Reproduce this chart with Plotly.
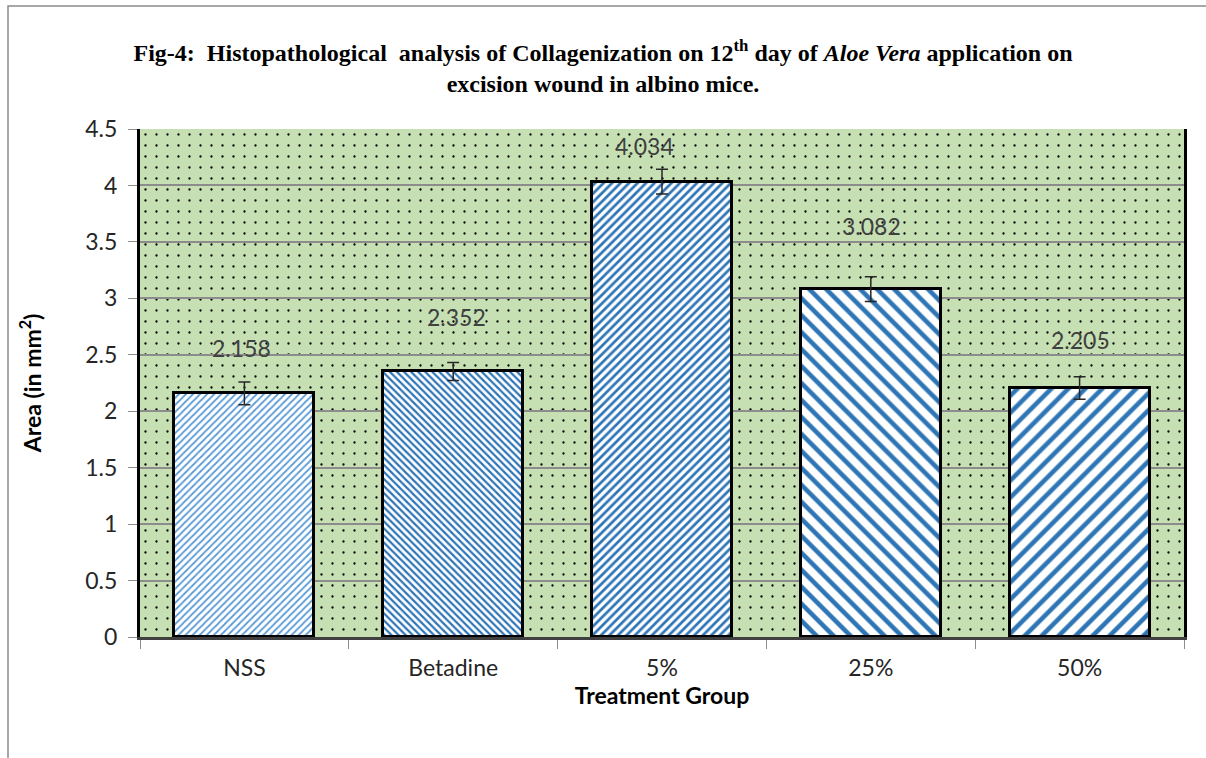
import plotly.graph_objects as go

categories = ["NSS", "Betadine", "5%", "25%", "50%"]
values = [2.158, 2.352, 4.034, 3.082, 2.205]
errors = [0.10, 0.08, 0.11, 0.11, 0.10]
value_labels = ["2.158", "2.352", "4.034", "3.082", "2.205"]
y_ticks = [0, 0.5, 1, 1.5, 2, 2.5, 3, 3.5, 4, 4.5]
y_tick_labels = ["0", "0.5", "1", "1.5", "2", "2.5", "3", "3.5", "4", "4.5"]
y_max = 4.5

# styling (not data)
label_yshift = [45, 54, 36, 63, 48]
label_xshift = [-3, 3, -18, 1, 1]
pattern_shapes = ["/", "\\", "/", "\\", "/"]
pattern_sizes = [5, 5, 6, 12, 12]
pattern_solidity = [0.35, 0.45, 0.45, 0.38, 0.38]
pattern_colors = ["#5b9bd5", "#2e75b6", "#2e75b6", "#2e75b6", "#2e75b6"]

L, R, T, B = 140, 22, 129, 121
W, H = 1206, 758
pw, ph = W - L - R, H - T - B

fig = go.Figure()

# dotted green background (subplot 1)
fig.add_trace(go.Bar(
    x=[0.5], y=[y_max], width=[1.0], xaxis="x", yaxis="y",
    marker=dict(color="#000000", line=dict(width=0),
                pattern=dict(shape=".", bgcolor="#c6e0b4", fgcolor="#000000",
                             fgopacity=1, size=11, solidity=0.035,
                             fillmode="overlay")),
    hoverinfo="skip", showlegend=False,
))

# real bars (subplot 2, drawn above background)
for i, c in enumerate(categories):
    fig.add_trace(go.Bar(
        x=[c], y=[values[i]], xaxis="x2", yaxis="y2",
        width=0.67,
        error_y=dict(type="data", array=[errors[i]], visible=True,
                     color="#262626", thickness=1.5, width=6),
        marker=dict(color="white",
                    line=dict(color="#000000", width=3),
                    pattern=dict(shape=pattern_shapes[i], bgcolor="white",
                                 fgcolor=pattern_colors[i], fgopacity=1,
                                 size=pattern_sizes[i],
                                 solidity=pattern_solidity[i], fillmode="overlay")),
        showlegend=False,
    ))

for i, c in enumerate(categories):
    fig.add_annotation(
        x=c, y=values[i], xref="x2", yref="y2", text=value_labels[i],
        showarrow=False, yshift=label_yshift[i], xshift=label_xshift[i],
        font=dict(family="Lato", size=23, color="#404040"),
    )

# outer chart frame
fig.add_shape(type="rect", xref="paper", yref="paper",
              x0=(8 - L) / pw, x1=(W + 6 - L) / pw,
              y0=-(B + 6) / ph, y1=1 + (T - 6) / ph,
              line=dict(color="#8c8c8c", width=1.5), layer="below")

fig.update_layout(
    width=W, height=H,
    margin=dict(l=L, r=R, t=T, b=B),
    paper_bgcolor="white",
    plot_bgcolor="rgba(0,0,0,0)",
    bargap=0,
    title=dict(
        text="Fig-4:  Histopathological  analysis of Collagenization on 12<sup>th</sup> day of <i>Aloe Vera</i> application on<br>excision wound in albino mice.",
        x=0.5, xref="container", xanchor="center", y=1 - 61 / H, yanchor="middle",
        font=dict(family="Liberation Serif", size=24, color="#000000", weight="bold"),
    ),
    xaxis=dict(domain=[0, 1], range=[0, 1], visible=False, fixedrange=True),
    yaxis=dict(domain=[0, 1], range=[0, y_max], visible=False, fixedrange=True),
    xaxis2=dict(
        domain=[0, 1], anchor="y2", type="category", categoryorder="array",
        categoryarray=categories,
        tickson="boundaries", ticks="outside", ticklen=9, tickcolor="#8c8c8c",
        tickfont=dict(family="Lato", size=23, color="#262626"),
        ticklabelstandoff=8,
        showline=True, linecolor="#404040", linewidth=3, mirror=False,
        showgrid=False,
        title=dict(text="<b>Treatment Group</b>", standoff=4,
                   font=dict(family="Lato", size=23, color="#000000")),
    ),
    yaxis2=dict(
        domain=[0, 1], anchor="x2", range=[0, y_max],
        tickvals=y_ticks, ticktext=y_tick_labels,
        ticks="outside", ticklen=9, tickcolor="#8c8c8c",
        tickfont=dict(family="Lato", size=23, color="#262626"),
        ticklabelstandoff=6,
        showgrid=True, gridcolor="#8c8c8c", gridwidth=1.5,
        zeroline=False,
        showline=True, linecolor="#000000", linewidth=3, mirror=True,
        title=dict(text="<b>Area (in mm<sup>2</sup>)</b>", standoff=38,
                   font=dict(family="Lato", size=23, color="#000000")),
    ),
)

fig.write_html("out.html", config={"displayModeBar": False},
               post_script="document.body.style.margin='0px';")
